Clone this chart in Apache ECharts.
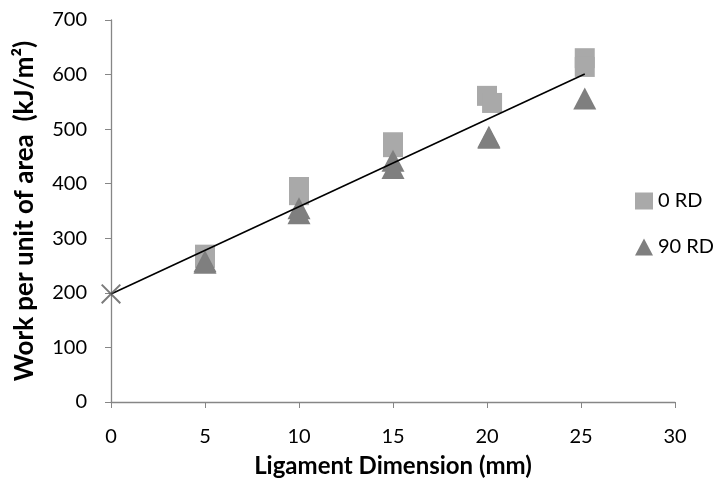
<!DOCTYPE html>
<html>
<head>
<meta charset="utf-8">
<script src="https://cdn.jsdelivr.net/npm/echarts@6/dist/echarts.min.js"></script>
<style>
  html, body { margin: 0; padding: 0; background: #fff; }
  #chart { width: 720px; height: 492px; }
</style>
</head>
<body>
<div id="chart"></div>
<script>
// values
const rd0 = [[5, 264], [5, 270], [10, 394], [10, 379], [15, 476], [15, 467], [20, 561], [20.27, 548], [25.2, 630], [25.2, 614]]
const rd90 = [[5, 258], [5, 255], [10, 355], [10, 346], [15, 442], [15, 429], [20.1, 486], [20.1, 484], [25.2, 556]]
const trend = [[0, 198], [25.2, 601]]
const intercept = [[0, 198]]

const font = 'Lato, "Open Sans", sans-serif'
const axisGray = '#868686'

const chart = echarts.init(document.getElementById('chart'))
chart.setOption({
  animation: false,
  grid: { left: 111, right: 45, top: 20, bottom: 90 },
  legend: {
    orient: 'vertical',
    left: 630,
    top: 186,
    itemWidth: 18,
    itemHeight: 17,
    itemGap: 26,
    textStyle: { fontFamily: font, fontSize: 20, color: '#000' },
    data: [
      { name: '0 RD', icon: 'rect' },
      { name: '90 RD', icon: 'triangle' }
    ]
  },
  xAxis: {
    type: 'value',
    min: 0, max: 30, interval: 5,
    name: 'Ligament Dimension (mm)',
    nameLocation: 'middle',
    nameGap: 52,
    nameTextStyle: { fontFamily: font, fontSize: 24, fontWeight: 'bold', color: '#000' },
    axisLine: { lineStyle: { color: axisGray, width: 1.3 } },
    axisTick: { show: true, length: 6, lineStyle: { color: axisGray } },
    axisLabel: { fontFamily: font, fontSize: 20, color: '#000', margin: 25 },
    splitLine: { show: false }
  },
  yAxis: {
    type: 'value',
    min: 0, max: 700, interval: 100,
    name: 'Work per unit of area  (kJ/m²)',
    nameLocation: 'middle',
    nameGap: 73,
    nameTextStyle: { fontFamily: font, fontSize: 26, fontWeight: 'bold', color: '#000' },
    axisLine: { show: true, lineStyle: { color: axisGray, width: 1.3 } },
    axisTick: { show: true, length: 6, lineStyle: { color: axisGray } },
    axisLabel: { fontFamily: font, fontSize: 20, color: '#000', margin: 24 },
    splitLine: { show: false }
  },
  series: [
    {
      name: '0 RD',
      type: 'scatter',
      data: rd0,
      symbol: 'rect',
      symbolSize: 20,
      itemStyle: { color: '#a9a9a9', opacity: 1 }
    },
    {
      name: '90 RD',
      type: 'scatter',
      data: rd90,
      symbol: 'triangle',
      symbolSize: [23, 22],
      itemStyle: { color: '#7f7f7f', opacity: 1 }
    },
    {
      name: 'trend',
      type: 'line',
      data: trend,
      showSymbol: false,
      lineStyle: { color: '#000', width: 1.6 },
      z: 5
    },
    {
      name: 'intercept',
      type: 'scatter',
      data: intercept,
      symbol: 'path://M0,0.7L0.7,0L10,9.3L9.3,10Z M9.3,0L10,0.7L0.7,10L0,9.3Z',
      symbolSize: 20,
      itemStyle: { color: '#595959' },
      z: 6
    }
  ]
})
</script>
</body>
</html>
